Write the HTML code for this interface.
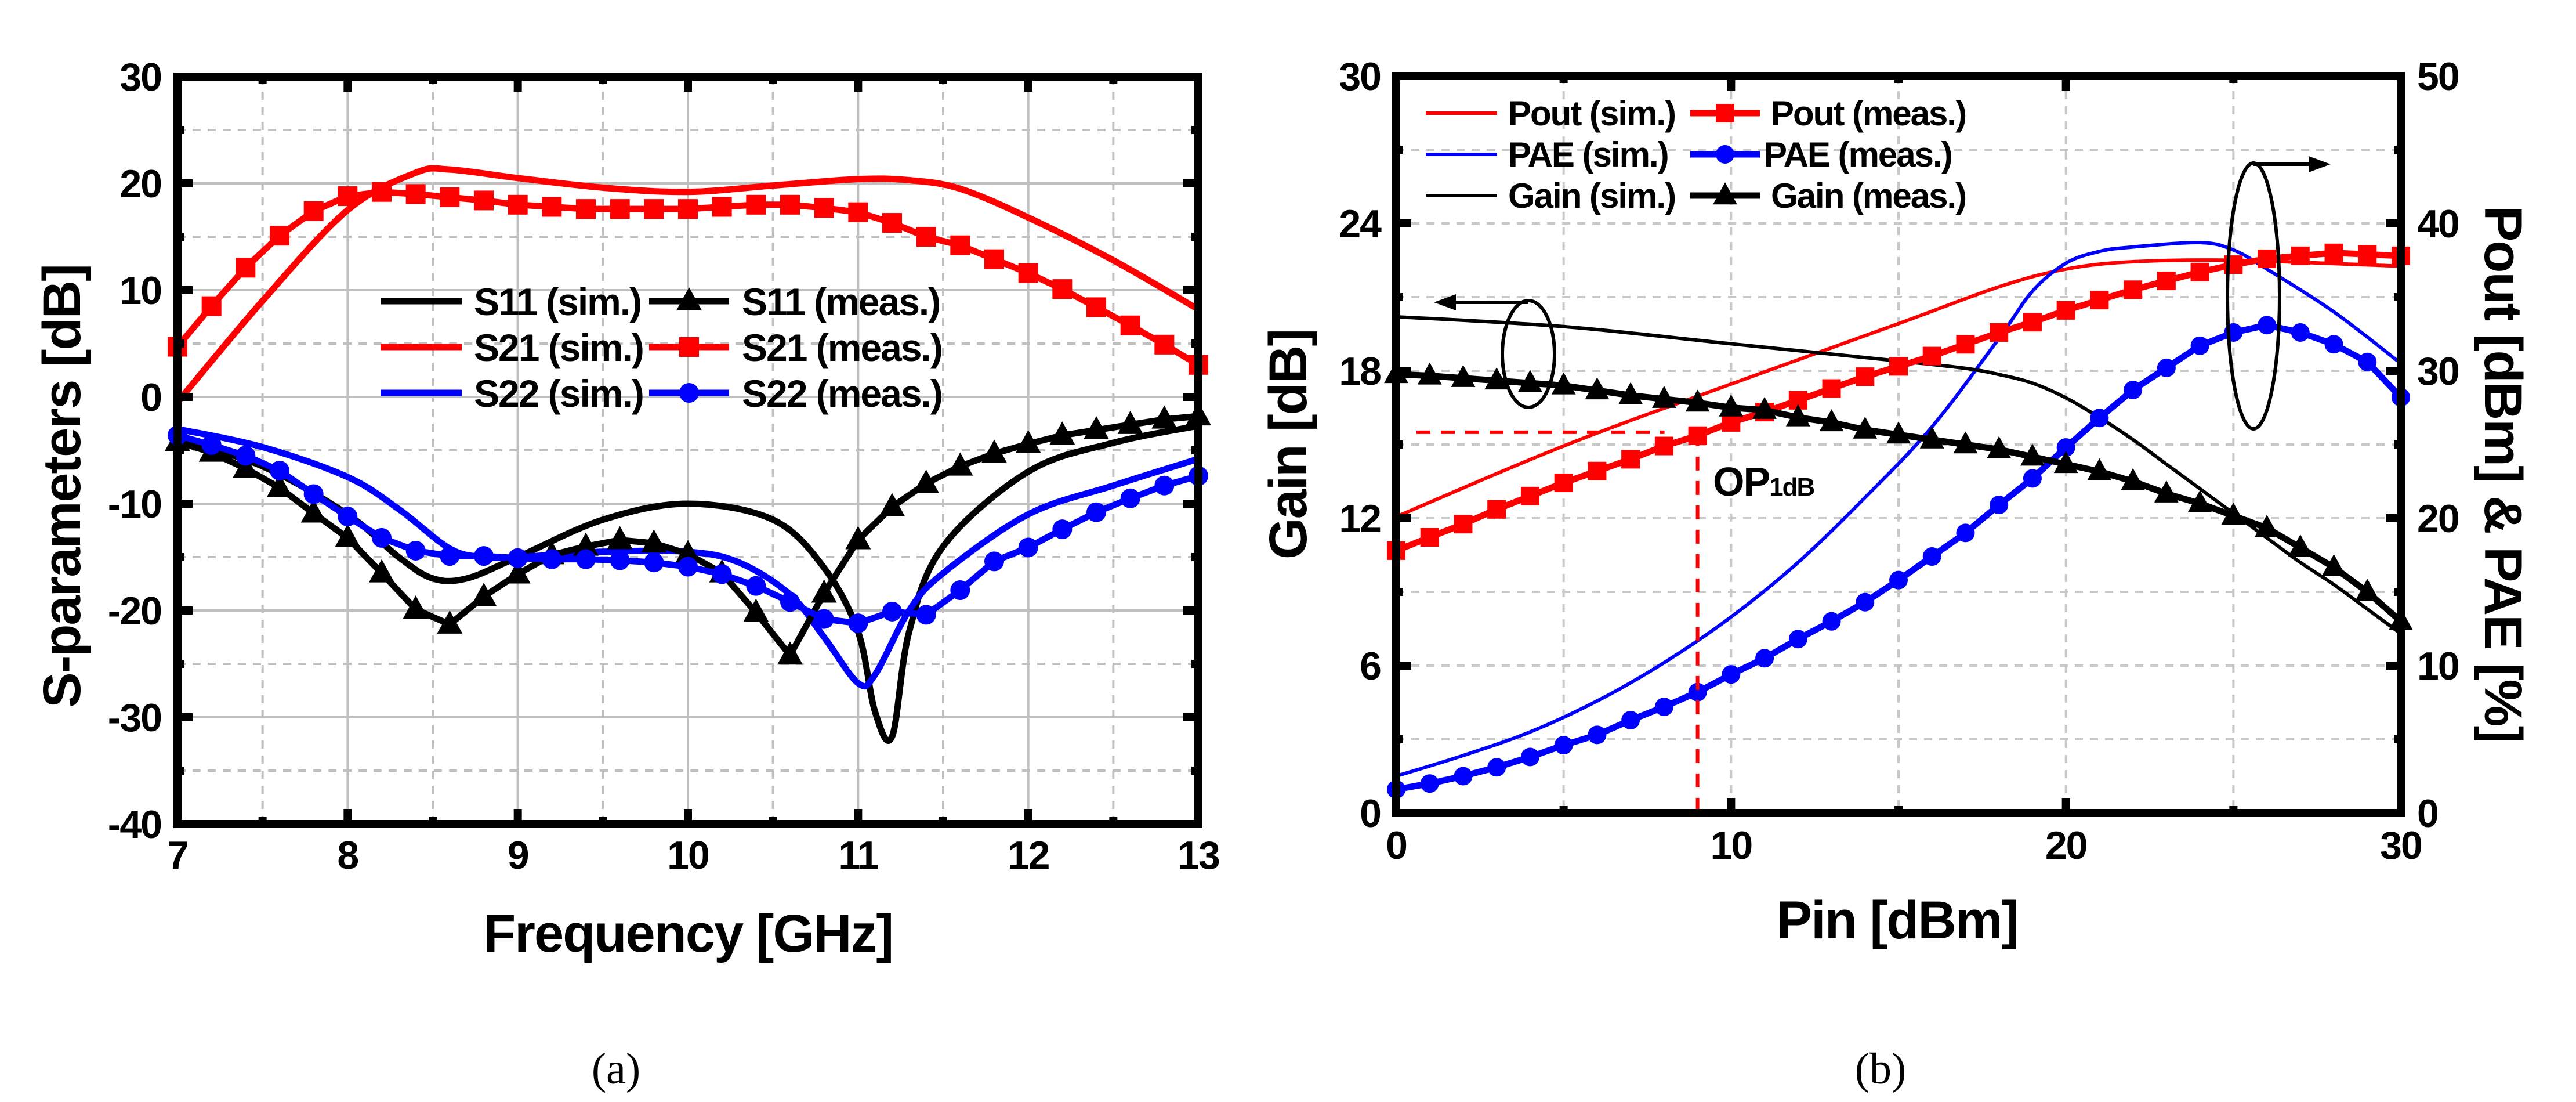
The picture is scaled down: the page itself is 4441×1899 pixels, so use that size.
<!DOCTYPE html>
<html><head><meta charset="utf-8"><style>
html,body{margin:0;padding:0;background:#fff;}
svg{display:block;font-family:"Liberation Sans",sans-serif;font-weight:bold;}
</style></head><body>
<svg id="fig" xmlns="http://www.w3.org/2000/svg" width="4441" height="1899" viewBox="0 0 4441 1899">
<g id="pa"></g>
<g id="pb"></g>
</svg>
<script>
// ---------- Chart (a) data ----------
const freqMeas = [7,7.2,7.4,7.6,7.8,8,8.2,8.4,8.6,8.8,9,9.2,9.4,9.6,9.8,10,10.2,10.4,10.6,10.8,11,11.2,11.4,11.6,11.8,12,12.2,12.4,12.6,12.8,13];
const s21Meas = [4.7,8.5,12.1,15.1,17.4,18.8,19.2,19.0,18.7,18.4,18.0,17.8,17.6,17.6,17.6,17.6,17.8,18.0,18.0,17.7,17.3,16.3,15.0,14.2,12.9,11.6,10.1,8.4,6.7,4.9,3.0];
const s11Meas = [-4.2,-5.2,-6.7,-8.5,-10.9,-13.2,-16.5,-19.9,-21.3,-18.7,-16.6,-14.8,-14.0,-13.4,-13.7,-14.7,-16.5,-20.2,-24.2,-18.4,-13.4,-10.3,-8.1,-6.5,-5.3,-4.4,-3.6,-3.1,-2.6,-2.1,-1.8];
const s22Meas = [-3.6,-4.5,-5.5,-6.9,-9.1,-11.2,-13.2,-14.4,-14.9,-14.9,-15.1,-15.2,-15.2,-15.3,-15.5,-15.9,-16.6,-17.7,-19.2,-20.8,-21.2,-20.1,-20.4,-18.1,-15.4,-14.1,-12.4,-10.8,-9.5,-8.3,-7.4];
const s21SimF = [7,7.5,8,8.4,8.6,9,9.5,10,10.5,11,11.3,11.6,12,12.5,13];
const s21Sim = [-0.5,9,17.5,21,21.3,20.5,19.6,19.2,19.8,20.4,20.3,19.5,16.8,12.8,8.2];
const s11SimF = [7,7.5,8,8.3,8.5,8.7,9,9.5,10,10.5,10.8,11,11.1,11.2,11.3,11.5,12,12.5,13];
const s11Sim = [-4,-6.5,-11,-15,-17,-17,-15,-11.5,-10,-11.5,-16,-22,-29.5,-31.8,-22,-14,-7,-4.3,-2.7];
const s22SimF = [7,7.5,8,8.3,8.6,8.8,9,9.5,10,10.3,10.6,10.8,11,11.1,11.3,11.5,12,12.5,13];
const s22Sim = [-3,-4.7,-7.5,-10.5,-14.2,-15,-15,-14.5,-14.5,-15.5,-18.5,-22.5,-26.8,-26,-20,-16.5,-11,-8.3,-5.8];
const aXTicks = ["7","8","9","10","11","12","13"];
const aYTicks = ["30","20","10","0","-10","-20","-30","-40"];

// ---------- Chart (b) data ----------
const pin = [0,1,2,3,4,5,6,7,8,9,10,11,12,13,14,15,16,17,18,19,20,21,22,23,24,25,26,27,28,29,30];
const gainMeas = [17.86,17.8,17.7,17.6,17.5,17.4,17.2,17.0,16.85,16.7,16.5,16.4,16.1,15.9,15.6,15.4,15.2,15.0,14.8,14.5,14.2,13.9,13.5,13.0,12.6,12.1,11.6,10.8,10.0,9.0,7.8];
const poutMeas = [17.8,18.7,19.6,20.6,21.5,22.4,23.2,24.0,24.9,25.6,26.5,27.2,28.0,28.8,29.6,30.3,31.0,31.8,32.6,33.3,34.1,34.8,35.5,36.1,36.7,37.2,37.6,37.8,38.0,37.9,37.8];
const paeMeas = [1.6,2.0,2.5,3.1,3.8,4.6,5.3,6.3,7.2,8.2,9.4,10.5,11.8,13.0,14.3,15.8,17.4,19.0,20.9,22.7,24.8,26.8,28.7,30.2,31.7,32.6,33.1,32.6,31.8,30.6,28.2];
const gainSimP = [0,5,10,15,17,18,19,20,21,22,23,24,25,26,27,28,29,30];
const gainSim = [20.2,19.8,19.1,18.4,18.1,17.85,17.5,16.9,16.1,15.2,14.2,13.2,12.2,11.2,10.2,9.3,8.3,7.3];
const poutSimP = [0,5,10,15,18,20,22,25,30];
const poutSim = [20.1,24.9,29.1,33.2,35.7,36.9,37.4,37.5,37.1];
const paeSimP = [0,2,4,6,8,10,12,14,16,18,19,20,21,22,24,25,26,28,30];
const paeSim = [2.5,3.9,5.5,7.6,10.2,13.3,17.0,21.4,26.2,32.2,35.4,37.3,38.1,38.4,38.7,38.2,36.9,34,30.5];
const bXTicks = ["0","10","20","30"];
const bYLTicks = ["0","6","12","18","24","30"];
const bYRTicks = ["0","10","20","30","40","50"];
const op1dbPin = [9];
const op1dbGain = [15.5];

const NS = "http://www.w3.org/2000/svg";
function mk(parent, tag, attrs, text){
  const e = document.createElementNS(NS, tag);
  for (const k in attrs) e.setAttribute(k, attrs[k]);
  if (text !== undefined) e.textContent = text;
  parent.appendChild(e);
  return e;
}
function smoothPath(pts){
  let d = "M" + pts[0][0] + "," + pts[0][1];
  for (let i = 0; i < pts.length - 1; i++){
    const p0 = pts[i-1] || pts[i], p1 = pts[i], p2 = pts[i+1], p3 = pts[i+2] || p2;
    const c1x = p1[0] + (p2[0]-p0[0])/6, c1y = p1[1] + (p2[1]-p0[1])/6;
    const c2x = p2[0] - (p3[0]-p1[0])/6, c2y = p2[1] - (p3[1]-p1[1])/6;
    d += " C" + c1x + "," + c1y + " " + c2x + "," + c2y + " " + p2[0] + "," + p2[1];
  }
  return d;
}
function linePath(pts){ return "M" + pts.map(p => p[0] + "," + p[1]).join(" L"); }
function marker(g, type, x, y, color, s){
  let m;
  if (type === "sq") m = mk(g, "rect", {x:x-s/2, y:y-s/2, width:s, height:s, fill:color});
  else if (type === "ci") m = mk(g, "circle", {cx:x, cy:y, r:s/2, fill:color});
  else m = mk(g, "polygon", {points:(x)+","+(y-s*0.6)+" "+(x-s*0.55)+","+(y+s*0.4)+" "+(x+s*0.55)+","+(y+s*0.4), fill:color});
  return m;
}

// ================= Chart A =================
(function(){
  const g = document.getElementById("pa");
  const L = 306, R = 2066, T = 132, B = 1420;
  const X = f => L + (f - 7) / 6 * (R - L);
  const Y = v => T + (30 - v) / 70 * (B - T);
  const grid = mk(g, "g", {});
  
  
  for (let f = 7.5; f < 13; f += 0.5){
    const major = Math.abs(f - Math.round(f)) < 1e-6;
    mk(grid, "line", {x1:X(f), y1:T, x2:X(f), y2:B, stroke:"#c0c0c0", "stroke-width":4, "stroke-dasharray": major ? "" : "14,12"});
  }
  for (let v = 25; v > -40; v -= 5){
    const major = v % 10 === 0;
    mk(grid, "line", {x1:L, y1:Y(v), x2:R, y2:Y(v), stroke:"#c0c0c0", "stroke-width":4, "stroke-dasharray": major ? "" : "14,12"});
  }
  const series = [
    {f:s11SimF, v:s11Sim, c:"#000", name:"s11-sim"},
    {f:s21SimF, v:s21Sim, c:"#ff0000", name:"s21-sim"},
    {f:s22SimF, v:s22Sim, c:"#0000ff", name:"s22-sim"}
  ];
  series.forEach(s => {
    const p = mk(g, "path", {d:smoothPath(s.f.map((f,i)=>[X(f),Y(s.v[i])])), fill:"none", stroke:s.c, "stroke-width":11, "stroke-linejoin":"round"});
    
    
  });
  const meas = [
    {v:s11Meas, c:"#000", t:"tr", name:"s11-meas"},
    {v:s21Meas, c:"#ff0000", t:"sq", name:"s21-meas"},
    {v:s22Meas, c:"#0000ff", t:"ci", name:"s22-meas"}
  ];
  meas.forEach(s => {
    const sg = mk(g, "g", {});
    
    
    mk(sg, "path", {d:linePath(freqMeas.map((f,i)=>[X(f),Y(s.v[i])])), fill:"none", stroke:s.c, "stroke-width":11, "stroke-linejoin":"round"});
    freqMeas.forEach((f,i) => {
      const m = marker(sg, s.t, X(f), Y(s.v[i]), s.c, s.t === "tr" ? 40 : 34);
      
      
    });
  });
  const fr = mk(g, "rect", {x:L, y:T, width:R-L, height:B-T, fill:"none", stroke:"#000", "stroke-width":14});
  
  
  for (let f = 7; f <= 13.001; f += 0.5){
    const major = Math.abs(f - Math.round(f)) < 1e-6, len = major ? 26 : 12;
    mk(g, "line", {x1:X(f), y1:B, x2:X(f), y2:B-len, stroke:"#000", "stroke-width":14});
    mk(g, "line", {x1:X(f), y1:T, x2:X(f), y2:T+len, stroke:"#000", "stroke-width":14});
  }
  for (let v = 30; v >= -40; v -= 5){
    const major = v % 10 === 0, len = major ? 26 : 12;
    mk(g, "line", {x1:L, y1:Y(v), x2:L+len, y2:Y(v), stroke:"#000", "stroke-width":14});
    mk(g, "line", {x1:R, y1:Y(v), x2:R-len, y2:Y(v), stroke:"#000", "stroke-width":14});
  }
  aXTicks.forEach((t,i) => {
    const e = mk(g, "text", {x:X(7+i), y:1497, "font-size":68, "text-anchor":"middle", "letter-spacing":-2}, t);
    
    
  });
  aYTicks.forEach((t,i) => {
    const e = mk(g, "text", {x:278, y:Y(30-10*i)+24, "font-size":68, "text-anchor":"end", "letter-spacing":-2}, t);
    
    
  });
  let e = mk(g, "text", {x:1186, y:1640, "font-size":92, "text-anchor":"middle", "letter-spacing":-2}, "Frequency [GHz]");
  
  
  e = mk(g, "text", {x:0, y:0, "font-size":92, "text-anchor":"middle", "letter-spacing":-2, transform:"translate(138,838) rotate(-90)"}, "S-parameters [dB]");
  
  
  e = mk(g, "text", {x:1062, y:1867, "font-size":76, "text-anchor":"middle", "font-family":"Liberation Serif, serif", "font-weight":"normal"}, "(a)");
  
  
  const lg = mk(g, "g", {});
  
  
  const rows = [["S11","#000","tr"],["S21","#ff0000","sq"],["S22","#0000ff","ci"]];
  rows.forEach((r,i) => {
    const y = 519 + i*79;
    mk(lg, "line", {x1:656, y1:y, x2:796, y2:y, stroke:r[1], "stroke-width":11});
    let t = mk(lg, "text", {x:817, y:y+24, "font-size":66, "letter-spacing":-2}, r[0] + " (sim.)");
    
    
    mk(lg, "line", {x1:1119, y1:y, x2:1257, y2:y, stroke:r[1], "stroke-width":11});
    marker(lg, r[2], 1188, y, r[1], r[2] === "tr" ? 40 : 34);
    t = mk(lg, "text", {x:1279, y:y+24, "font-size":66, "letter-spacing":-2}, r[0] + " (meas.)");
    
    
  });
})();

// ================= Chart B =================
(function(){
  const g = document.getElementById("pb");
  const L = 2407, R = 4139, T = 131, B = 1401;
  const X = p => L + p / 30 * (R - L);
  const YL = v => B - v / 30 * (B - T);
  const YR = v => B - v / 50 * (B - T);
  const grid = mk(g, "g", {});
  
  
  for (let p = 5; p < 30; p += 5) mk(grid, "line", {x1:X(p), y1:T, x2:X(p), y2:B, stroke:"#c8c8c8", "stroke-width":4, "stroke-dasharray":"14,12"});
  for (let v = 3; v < 30; v += 3) mk(grid, "line", {x1:L, y1:YL(v), x2:R, y2:YL(v), stroke:"#c8c8c8", "stroke-width":4, "stroke-dasharray":"14,12"});
  const sims = [
    {p:poutSimP, v:poutSim, Y:YR, c:"#ff0000", name:"pout-sim"},
    {p:paeSimP, v:paeSim, Y:YR, c:"#0000ff", name:"pae-sim"},
    {p:gainSimP, v:gainSim, Y:YL, c:"#000", name:"gain-sim"}
  ];
  sims.forEach(s => {
    const e = mk(g, "path", {d:smoothPath(s.p.map((p,i)=>[X(p), s.Y(s.v[i])])), fill:"none", stroke:s.c, "stroke-width":6});
    
    
  });
  const meas = [
    {v:poutMeas, Y:YR, c:"#ff0000", t:"sq", name:"pout-meas"},
    {v:paeMeas, Y:YR, c:"#0000ff", t:"ci", name:"pae-meas"},
    {v:gainMeas, Y:YL, c:"#000", t:"tr", name:"gain-meas"}
  ];
  meas.forEach(s => {
    const sg = mk(g, "g", {});
    
    
    mk(sg, "path", {d:linePath(pin.map((p,i)=>[X(p), s.Y(s.v[i])])), fill:"none", stroke:s.c, "stroke-width":11, "stroke-linejoin":"round"});
    pin.forEach((p,i) => {
      const m = marker(sg, s.t, X(p), s.Y(s.v[i]), s.c, s.t === "tr" ? 38 : 32);
      
      
    });
  });
  const gy = YL(op1dbGain[0]), gx = X(op1dbPin[0]);
  let e = mk(g, "path", {d:"M"+(L+35)+","+gy+" L"+(gx-57)+","+gy+" M"+gx+","+gy+" L"+gx+","+B, stroke:"#ff0000", "stroke-width":6, "stroke-dasharray":"24,18", fill:"none"});
  
  
  e = mk(g, "text", {x:2953, y:854, "font-size":70, "letter-spacing":-2});
  
  
  mk(e, "tspan", {}, "OP");
  mk(e, "tspan", {"font-size":44, dy:0}, "1dB");
  e = mk(g, "ellipse", {cx:2635, cy:610, rx:45, ry:92, fill:"none", stroke:"#000", "stroke-width":6});
  
  
  e = mk(g, "path", {d:"M2635,521 L2500,521", stroke:"#000", "stroke-width":6, fill:"none"});
  
  
  mk(g, "polygon", {points:"2472,521 2510,507 2510,535", fill:"#000"});
  e = mk(g, "ellipse", {cx:3885, cy:510, rx:45, ry:229, fill:"none", stroke:"#000", "stroke-width":6});
  
  
  e = mk(g, "path", {d:"M3885,283 L3990,283", stroke:"#000", "stroke-width":6, fill:"none"});
  
  
  mk(g, "polygon", {points:"4018,283 3980,269 3980,297", fill:"#000"});
  e = mk(g, "rect", {x:L, y:T, width:R-L, height:B-T, fill:"none", stroke:"#000", "stroke-width":14});
  
  
  for (let p = 0; p <= 30; p += 5){
    const len = p % 10 === 0 ? 26 : 12;
    mk(g, "line", {x1:X(p), y1:B, x2:X(p), y2:B-len, stroke:"#000", "stroke-width":14});
    mk(g, "line", {x1:X(p), y1:T, x2:X(p), y2:T+len, stroke:"#000", "stroke-width":14});
  }
  for (let v = 0; v <= 30; v += 3){
    const len = v % 6 === 0 ? 26 : 12;
    mk(g, "line", {x1:L, y1:YL(v), x2:L+len, y2:YL(v), stroke:"#000", "stroke-width":14});
  }
  for (let v = 0; v <= 50; v += 5){
    const len = v % 10 === 0 ? 26 : 12;
    mk(g, "line", {x1:R, y1:YR(v), x2:R-len, y2:YR(v), stroke:"#000", "stroke-width":14});
  }
  bXTicks.forEach((t,i) => {
    const k = mk(g, "text", {x:X(i*10), y:1480, "font-size":68, "text-anchor":"middle", "letter-spacing":-2}, t);
    
    
  });
  bYLTicks.forEach((t,i) => {
    const k = mk(g, "text", {x:2380, y:YL(i*6)+24, "font-size":68, "text-anchor":"end", "letter-spacing":-2}, t);
    
    
  });
  bYRTicks.forEach((t,i) => {
    const k = mk(g, "text", {x:4167, y:YR(i*10)+24, "font-size":68, "letter-spacing":-2}, t);
    
    
  });
  e = mk(g, "text", {x:3271, y:1617, "font-size":92, "text-anchor":"middle", "letter-spacing":-2}, "Pin [dBm]");
  
  
  e = mk(g, "text", {x:0, y:0, "font-size":92, "text-anchor":"middle", "letter-spacing":-2, transform:"translate(2252,766) rotate(-90)"}, "Gain [dB]");
  
  
  e = mk(g, "text", {x:0, y:0, "font-size":92, "text-anchor":"middle", "letter-spacing":-2, transform:"translate(4284,817) rotate(90)"}, "Pout [dBm] & PAE [%]");
  
  
  e = mk(g, "text", {x:3242, y:1867, "font-size":76, "text-anchor":"middle", "font-family":"Liberation Serif, serif", "font-weight":"normal"}, "(b)");
  
  
  const lg = mk(g, "g", {});
  
  
  const rows = [["Pout","#ff0000","sq"],["PAE","#0000ff","ci"],["Gain","#000","tr"]];
  rows.forEach((r,i) => {
    const y = 195 + i*71;
    mk(lg, "line", {x1:2458, y1:y, x2:2581, y2:y, stroke:r[1], "stroke-width":6});
    let t = mk(lg, "text", {x:2600, y:y+21, "font-size":60, "letter-spacing":-2}, r[0] + " (sim.)");
    
    
    mk(lg, "line", {x1:2914, y1:y, x2:3034, y2:y, stroke:r[1], "stroke-width":11});
    marker(lg, r[2], 2974, y, r[1], r[2] === "tr" ? 38 : 32);
    t = mk(lg, "text", {x:r[0] === "PAE" ? 3041 : 3053, y:y+21, "font-size":60, "letter-spacing":-2}, r[0] + " (meas.)");
    
    
  });
})();
</script>
</body></html>
